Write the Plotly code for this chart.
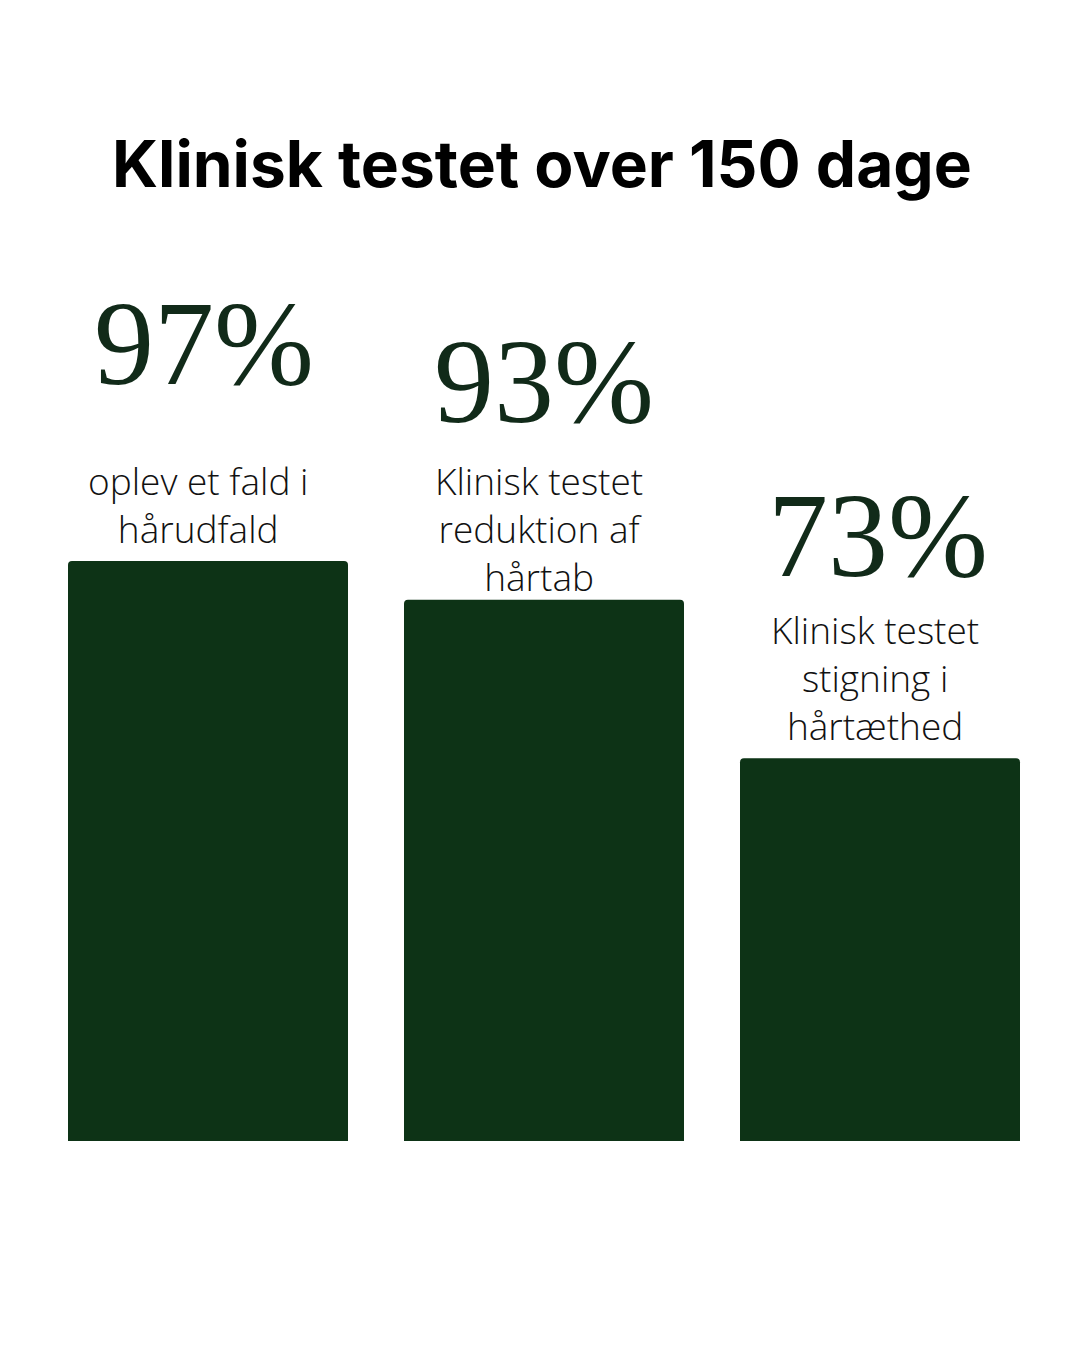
import plotly.graph_objects as go

# ---- data ----
categories = ["oplev et fald i<br>hårudfald",
              "Klinisk testet<br>reduktion af<br>hårtab",
              "Klinisk testet<br>stigning i<br>hårtæthed"]
percent_labels = ["97%", "93%", "73%"]
# bar heights (relative to the tallest bar = 100)
bar_heights = [100, 93.3, 66.0]
title_text = "Klinisk testet over 150 dage"

# ---- style ----
BAR_COLOR = "#0d3316"
PCT_COLOR = "#112a19"
W, H = 1080, 1350
PAGE_OFF = 8              # browser body margin
PX_PER_UNIT = 5.8
ZERO_PX = 1141 - PAGE_OFF  # pixel row of the bar bottoms
X0_PX, STEP_PX, BAR_PX = 208 - PAGE_OFF, 336, 280
desc_offsets = [57, 71, 81]   # px from bar top to center of description block
desc_xshift = [-10, -5, -5]
pct_offsets = [218, 218, 223]
pct_xshift = [-4, 0, -2]

x = list(range(len(categories)))

fig = go.Figure(go.Bar(
    x=x, y=bar_heights,
    width=BAR_PX / STEP_PX,
    marker=dict(color=BAR_COLOR, cornerradius=4, line=dict(width=0)),
    hoverinfo="skip",
))

annotations = []
for i in x:
    annotations.append(dict(
        x=i, y=bar_heights[i], xref="x", yref="y",
        text=percent_labels[i], showarrow=False,
        yanchor="middle", xanchor="center", yshift=pct_offsets[i],
        xshift=pct_xshift[i],
        font=dict(family="Liberation Serif", size=120, color=PCT_COLOR),
    ))
    annotations.append(dict(
        x=i, y=bar_heights[i], xref="x", yref="y",
        text=categories[i], showarrow=False,
        yanchor="middle", xanchor="center", yshift=desc_offsets[i],
        xshift=desc_xshift[i],
        font=dict(family="Open Sans", size=37, color="#111111", weight=300),
    ))

annotations.append(dict(
    x=(542 - PAGE_OFF) / W, y=1 - (163 - PAGE_OFF) / H, xref="paper", yref="paper",
    text=title_text, showarrow=False, yanchor="middle", xanchor="center",
    font=dict(family="Inter", size=64, color="#000000", weight=700),
))

fig.update_layout(
    width=W, height=H,
    margin=dict(l=0, r=0, t=0, b=0),
    paper_bgcolor="white", plot_bgcolor="white",
    showlegend=False,
    annotations=annotations,
    xaxis=dict(range=[-X0_PX / STEP_PX, (W - X0_PX) / STEP_PX],
               visible=False, fixedrange=True),
    yaxis=dict(range=[-(H - ZERO_PX) / PX_PER_UNIT, ZERO_PX / PX_PER_UNIT],
               visible=False, fixedrange=True),
)

fig.write_html("out.html", config={"displayModeBar": False})
